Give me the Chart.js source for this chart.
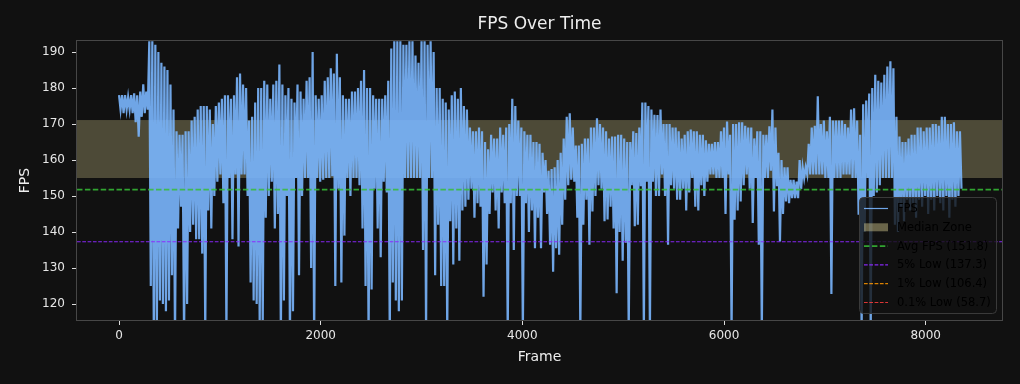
<!DOCTYPE html>
<html>
<head>
<meta charset="utf-8">
<script src="https://cdn.jsdelivr.net/npm/chart.js@4/dist/chart.umd.min.js"></script>
<style>
  html, body { margin: 0; padding: 0; background: #111111; }
  #wrap { width: 1020px; height: 384px; }
</style>
</head>
<body>
<div id="wrap"><canvas id="fps" width="1020" height="384"></canvas></div>
<script>
// frames per sample bin; each bin holds the highest and lowest FPS
const binFrames = 30;

const fpsHigh = [
  178,178,178,177.5,178,178.5,178,179,181,179,
  193,193,192,190,187,186,185,181,174,168,
  167,167,168,168,171,172,174,175,175,175,
  174,170,175,176,177,178,178,177,178,
  183,184,181,180,171,172,176,180,180,182,
  181,177,181,182,186.5,181,178,180,177,176,
  181,179,177,182,183,190,178,177,178,182,
  183,185.5,184,189.5,183,178,177,177,179,179,
  180,182,185,180,180,178,177,177,177,178,
  182,191,193,193,193,192,192,193,193,189,
  187,193,193,192,193,190,180,180,177,176,
  174,178,179,177,180,175,174,169,168,168,
  169,168,165,163,167,166,166,169,167,169,
  170,177,175,171,169,168,167,167,165,165,
  164.5,162,160,157,157.5,158,160,162,166,172,
  173,169,164,164,164.5,166,166,169,169,171.6,
  170,169,168,166,166.5,166.5,167,167,166,165,
  165,168,167.5,169,176,176,175,174,172.6,172.5,
  174,170,170,170,169,169,168,166,167,168,
  168.5,168,168,167,167,165.5,164.5,164.5,165,165,
  168,169,170.7,167,170,170,170.5,170.5,169.5,169,
  169,166,168,168,167,167,169.4,174,169,162,
  160,158,158,154.5,154.5,154,160,158,158,164.5,
  169,169.5,177.7,170,171,168,172,171,171,171,
  171,170,169,174,174.4,171,167,175.5,176.5,178.5,
  180,183.7,182,181.5,183.7,186,187.4,185.5,172,166.5,
  165,165,166,167,167,169,169,168,169,169,
  170,170,169.5,172,172,170,170,170.5,168,168
];

const fpsLow = [
  174,173,174,174,173,170.5,166.5,172,173,174,
  125,110,112,121,120,118,121,128,110,141,
  147,110,120,140,142,138,138,134,112,146,
  141,150,154,156,148,112,155,138,156,
  136,156,156,150,126,121,120,114,114,144,
  150,154,141,145,110,121,150,110,118,155,
  128,150,155,155,130,110,155,154,154.5,155,
  155,155.5,125,152,126,139,155,150,155,155,
  153,141,125,110,124,152,141,133,154,151,
  110,126,121,118,121,155,155,155,155,155,
  155,135,112,155,155,128,142,125,125,112,
  143,131,141,132,146,147,149,152,144,148,
  147,122,131,145,151,146,141,151,148,112,
  148,135,150,150,112,148,140,146,135.5,144,
  135.5,151,145,136.5,129,135.5,133.7,142,149,153,
  154.5,154,144,112,142,149,136.5,145.7,150,153,
  152,143,143.5,147,141,123,140,132,137,112,
  153,141.6,142,152.7,112,154,112,154,150,150,
  156,150,136.5,153,152,149,149,152,146,151,
  155,147,146,153,150,154,156,156,155,155,
  155,145,156,112,143.4,146,148.5,153,156,152,
  142.5,155,136.5,112,155,155,157,145.7,152.7,137.4,
  145,148.5,148,149.4,149.4,149.4,152,155,156,156,
  156,156,156,156,155,155,122.8,155,155,155,
  156,156,156,155,155,144.8,112,140,155,112,
  150,151,153,155,155,155,155,142,140,147,
  143,149,146,148,144,149,147,150,145,149,
  146,150,148,146,150,144,149,147,150,152
];

const medianZone = [155.0, 171.1];
const refLabels = ["Avg FPS (151.8)", "5% Low (137.3)", "1% Low (106.4)", "0.1% Low (58.7)"];
const refValues = [151.8, 137.3, 106.4, 58.7];
const refColors = ["rgba(55,190,55,0.85)", "rgba(140,40,255,0.95)", "rgba(255,150,0,0.85)", "rgba(255,60,60,0.85)"];

const xTicks = [0, 2000, 4000, 6000, 8000];
const yTicks = [120, 130, 140, 150, 160, 170, 180, 190];

const X_MIN = -417, X_MAX = 8757;
const Y_MIN = 115.56, Y_MAX = 193.06;
const FONT = "DejaVu Sans";
const FPS_COLOR = "rgba(122,182,254,0.9)";

// the original is a dense per-frame line; walk it high -> low through every bin
const fpsPoints = [];
fpsHigh.forEach((v, i) => {
  fpsPoints.push({x: i * binFrames, y: v});
  fpsPoints.push({x: i * binFrames + binFrames / 2, y: fpsLow[i]});
});

const refDash = [[5.5, 2.4], [3.7, 1.6], [3.7, 1.6], [3.7, 1.6]];
const refWidth = [1.8, 1.2, 1.2, 1.2];

const refSets = refValues.map((v, i) => ({
  label: refLabels[i],
  data: [{x: X_MIN, y: v}, {x: X_MAX, y: v}],
  borderColor: refColors[i],
  borderWidth: refWidth[i],
  borderDash: refDash[i],
  pointRadius: 0,
  order: 1,
}));

const medianPlugin = {
  id: "medianZone",
  beforeDatasetsDraw(chart){
    const {ctx, chartArea: a, scales: {y}} = chart;
    const top = y.getPixelForValue(medianZone[1]);
    const bot = y.getPixelForValue(medianZone[0]);
    ctx.save();
    ctx.fillStyle = "rgba(217,207,147,0.3)";
    ctx.fillRect(a.left, top, a.right - a.left, bot - top);
    ctx.restore();
  }
};

const decorPlugin = {
  id: "decor",
  afterDraw(chart){
    const {ctx, chartArea: a} = chart;
    ctx.save();
    // spines
    ctx.strokeStyle = "#474747";
    ctx.lineWidth = 1;
    ctx.strokeRect(a.left - 0.5, a.top - 0.5, a.right - a.left + 1, a.bottom - a.top + 1);

    // titles
    ctx.fillStyle = "#eeeeee";
    ctx.textAlign = "center";
    ctx.textBaseline = "middle";
    ctx.font = `17px "${FONT}"`;
    ctx.fillText("FPS Over Time", (a.left + a.right) / 2, 25);
    ctx.font = `14px "${FONT}"`;
    ctx.fillText("Frame", (a.left + a.right) / 2, 357);
    ctx.save();
    ctx.translate(25, (a.top + a.bottom) / 2);
    ctx.rotate(-Math.PI / 2);
    ctx.fillText("FPS", 0, 0);
    ctx.restore();

    // legend
    const lx = 859, ly = 197, lw = 137, lh = 116;
    ctx.beginPath();
    ctx.roundRect(lx + 0.5, ly + 0.5, lw, lh, 4);
    ctx.fillStyle = "rgba(17,17,17,0.8)";
    ctx.fill();
    ctx.strokeStyle = "#3a3a3a";
    ctx.stroke();

    const rows = ["FPS", "Median Zone"].concat(refLabels);
    ctx.font = `11.5px "${FONT}"`;
    ctx.textAlign = "left";
    rows.forEach((txt, i) => {
      const ry = 208.5 + i * 18.8;
      if(i === 0){
        ctx.setLineDash([]);
        ctx.strokeStyle = FPS_COLOR;
        ctx.lineWidth = 1.2;
        ctx.beginPath(); ctx.moveTo(864, ry); ctx.lineTo(888, ry); ctx.stroke();
      }else if(i === 1){
        ctx.fillStyle = "rgba(217,207,147,0.45)";
        ctx.fillRect(864, ry - 4, 24, 8);
      }else{
        const k = i - 2;
        ctx.setLineDash(refDash[k]);
        ctx.strokeStyle = refColors[k];
        ctx.lineWidth = refWidth[k];
        ctx.beginPath(); ctx.moveTo(864, ry); ctx.lineTo(888, ry); ctx.stroke();
      }
      ctx.setLineDash([]);
      ctx.fillStyle = "#000000";
      ctx.fillText(txt, 897, ry + 0.5);
    });
    ctx.restore();
  }
};

function axisOpts(ticks, min, max){
  return {
    type: "linear",
    min, max,
    afterBuildTicks: s => { s.ticks = ticks.map(v => ({value: v})); },
    grid: {drawOnChartArea: false, drawTicks: true, tickLength: 5, tickColor: "#dddddd", tickWidth: 1},
    border: {display: false},
    ticks: {color: "#e6e6e6", font: {family: FONT, size: 12}, maxRotation: 0, autoSkip: false,
            callback: v => String(v)},
  };
}

const xAxis = axisOpts(xTicks, X_MIN, X_MAX);
xAxis.afterFit = s => { s.height = 64; };
xAxis.ticks.padding = 4;
const yAxis = axisOpts(yTicks, Y_MIN, Y_MAX);
yAxis.afterFit = s => { s.width = 77; };
yAxis.ticks.padding = 7;

new Chart(document.getElementById("fps").getContext("2d"), {
  type: "line",
  data: {
    datasets: [
      ...refSets,
      {
        label: "FPS",
        data: fpsPoints,
        borderColor: FPS_COLOR,
        borderWidth: 2.2,
        borderJoinStyle: "miter",
        pointRadius: 0,
        tension: 0,
        order: 2,
      },
    ]
  },
  options: {
    responsive: false,
    animation: false,
    devicePixelRatio: 1,
    layout: {padding: {top: 41, right: 18, left: 0, bottom: 0}},
    plugins: {legend: {display: false}, tooltip: {enabled: false}, title: {display: false}},
    scales: {x: xAxis, y: yAxis},
  },
  plugins: [medianPlugin, decorPlugin],
});
</script>
</body>
</html>
